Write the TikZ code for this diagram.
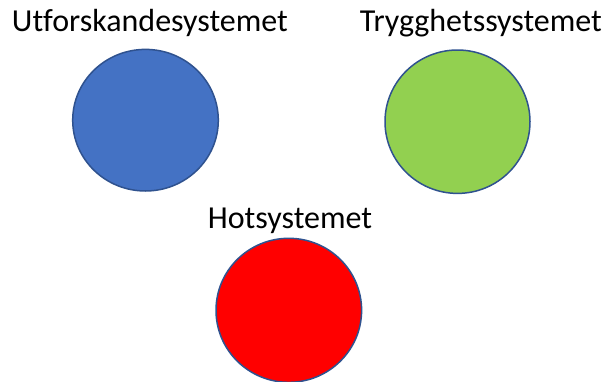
\documentclass[tikz,border=0pt]{standalone}
\usepackage{fontspec}
\setmainfont[Ligatures=NoCommon]{Carlito}
\definecolor{oblue}{HTML}{4472C4}
\definecolor{ogreen}{HTML}{92D050}
\definecolor{ored}{HTML}{FF0000}
\definecolor{oline}{HTML}{2F528F}
\begin{document}
\begin{tikzpicture}[x=1pt,y=-1pt,
  lbl/.style={anchor=base,inner sep=0pt,font=\fontsize{32}{36}\selectfont},
  disc/.style={draw=oline,line width=1.5pt}]
\useasboundingbox (0,0) rectangle (608,381);
\fill[white] (0,0) rectangle (608,381);
\draw[disc,fill=oblue] (145.5,120.2) ellipse [x radius=72.8, y radius=70.8];
\draw[disc,fill=ogreen] (457.5,121.7) ellipse [x radius=72.5, y radius=71.7];
\draw[disc,fill=ored] (288.8,310.3) ellipse [x radius=72.8, y radius=72];
\node[lbl] (u) at (149.9,31.7) {Utforskandesystemet};
\node[lbl] (t) at (480.9,31.7) {Trygghetssystemet};
\node[lbl] (h) at (290,228.3) {Hotsystemet};
\end{tikzpicture}
\end{document}
